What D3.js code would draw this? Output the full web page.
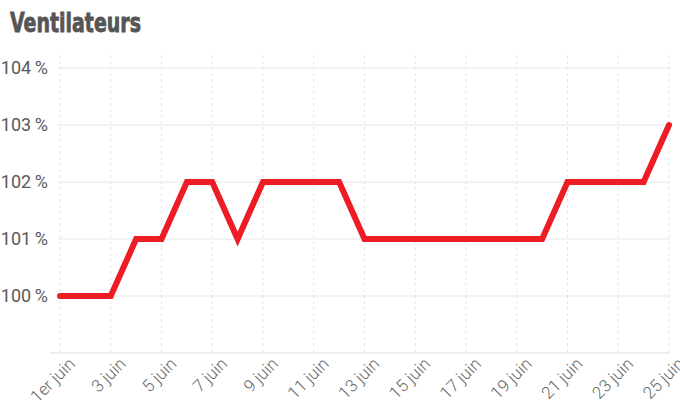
<!DOCTYPE html>
<html><head><meta charset="utf-8">
<script src="https://cdn.jsdelivr.net/npm/d3@7"></script>
<style>body{margin:0;background:#fff}svg{display:block}</style>
</head><body>
<svg id="c" width="680" height="414"></svg>
<script>
const title = "Ventilateurs";
const days = d3.range(1, 26);
const values = [100,100,100,101,101,102,102,101,102,102,102,102,101,101,101,101,101,101,101,101,102,102,102,102,103];
const yTicks = [100,101,102,103,104];
const xTickDays = [1,3,5,7,9,11,13,15,17,19,21,23,25];
const dayLabel = d => d === 1 ? "1er juin" : d + " juin";

const svg = d3.select("#c");
const x = d3.scaleLinear().domain([1,25]).range([60,669]);
const y = d3.scaleLinear().domain([99,104]).range([353,68]);

svg.append("text").attr("x",10).attr("y",32)
  .attr("font-family","'DejaVu Sans Condensed','DejaVu Sans',sans-serif")
  .attr("font-weight","bold").attr("font-size",27).attr("fill","#555")
  .attr("textLength",131).attr("lengthAdjust","spacingAndGlyphs")
  .attr("stroke","#555").attr("stroke-width",0.8)
  .text(title);

// vertical dashed grid
svg.append("g").selectAll("line").data(xTickDays).join("line")
  .attr("x1",d=>x(d)).attr("x2",d=>x(d)).attr("y1",55).attr("y2",353)
  .attr("stroke","#e6e6e6").attr("stroke-dasharray","3,3");

// horizontal grid
svg.append("g").selectAll("line").data(yTicks).join("line")
  .attr("x1",58).attr("x2",670).attr("y1",d=>y(d)).attr("y2",d=>y(d))
  .attr("stroke","#e6e6e6");

// bottom axis line
svg.append("line").attr("x1",50).attr("x2",670).attr("y1",353).attr("y2",353).attr("stroke","#dcdcdc");

// y labels
svg.append("g").selectAll("text").data(yTicks).join("text")
  .attr("x",48).attr("y",d=>y(d)+6).attr("text-anchor","end")
  .attr("font-family","Roboto,sans-serif").attr("font-size",18).attr("fill","#5a5a5a")
  .text(d=>d+"\u2009%");

// x labels
svg.append("g").selectAll("text").data(xTickDays).join("text")
  .attr("text-anchor","end")
  .attr("transform",d=>`translate(${x(d)+16},${365}) rotate(-45)`)
  .attr("font-family","Roboto,sans-serif").attr("font-weight",300).attr("font-size",17).attr("fill","#666")
  .text(dayLabel);

// line
const line = d3.line().x((d,i)=>x(days[i])).y(d=>y(d));
svg.append("path").datum(values).attr("d",line)
  .attr("fill","none").attr("stroke","#ee1c25").attr("stroke-width",6)
  .attr("stroke-linecap","round").attr("stroke-linejoin","miter");
</script>
</body></html>
